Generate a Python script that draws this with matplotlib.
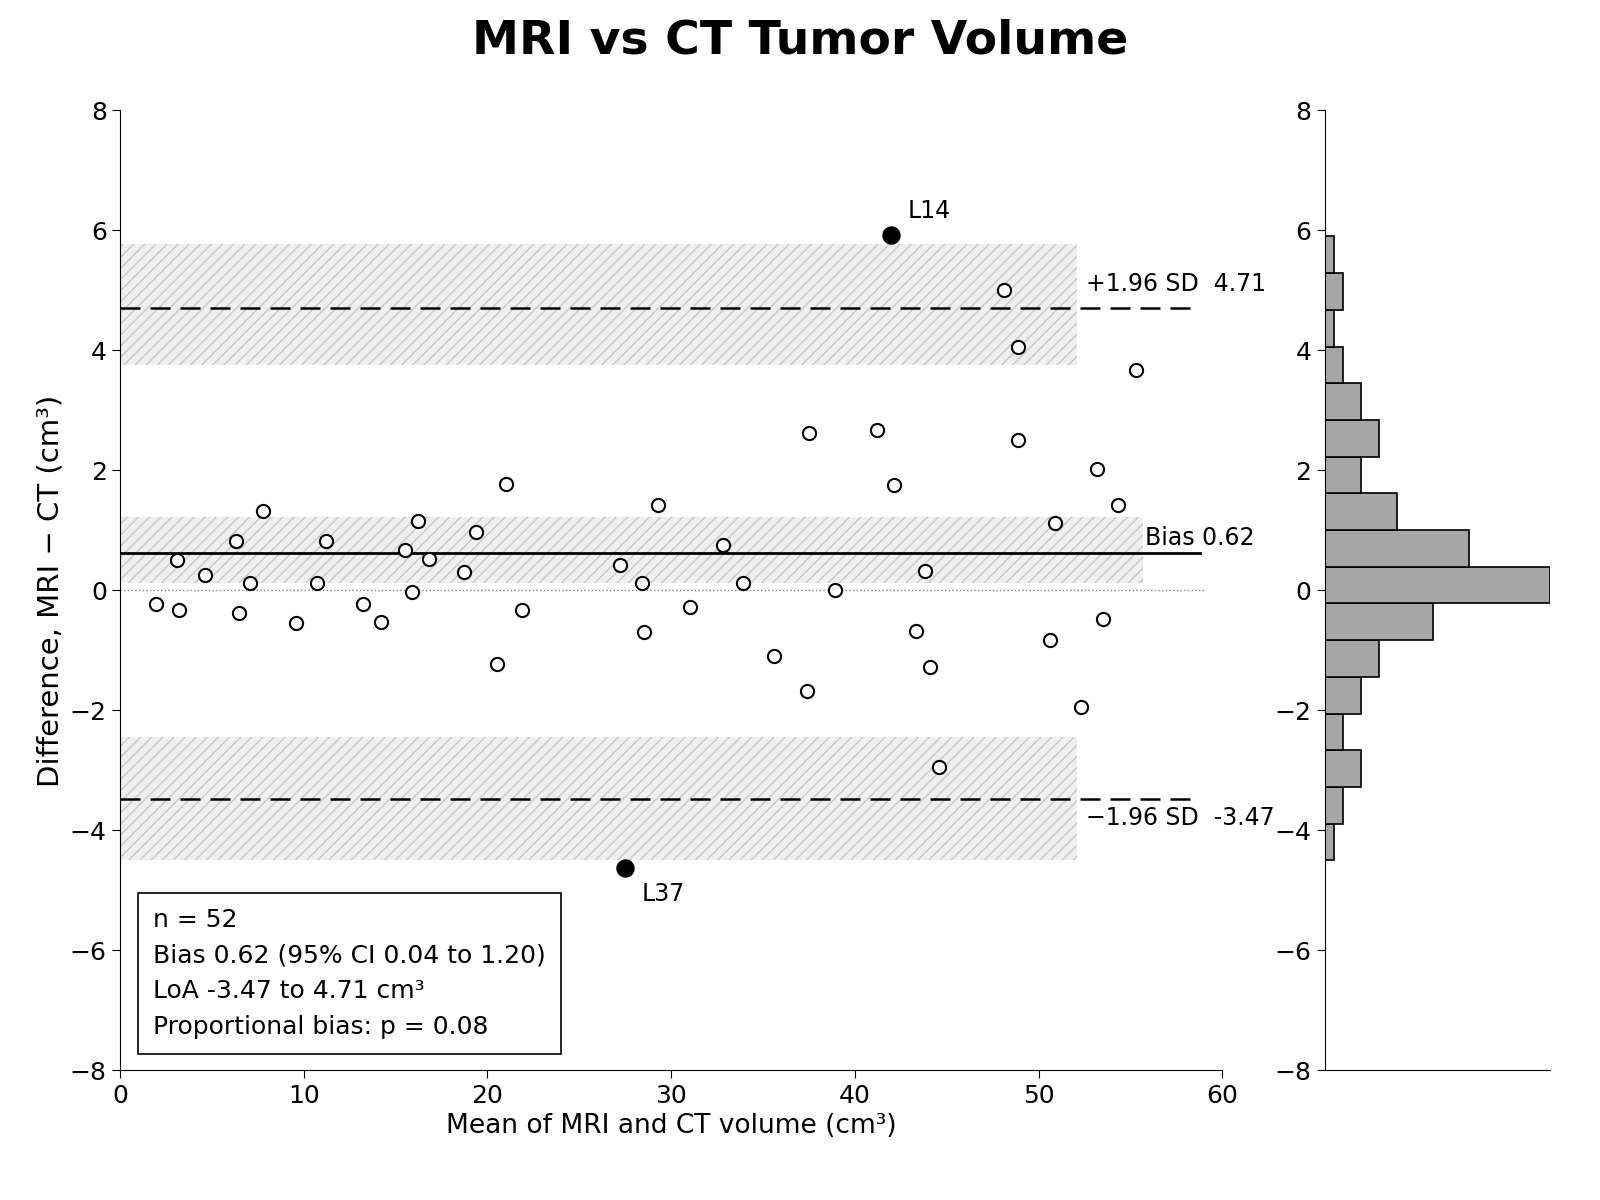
import numpy as np
import matplotlib.pyplot as plt

# Bland-Altman data: mean of the two methods vs their difference
mean_vol = [1.96, 3.1, 3.2, 4.6, 6.3, 6.5, 7.1, 7.8, 9.6, 10.7, 11.2, 13.2, 14.2,
            15.5, 15.9, 16.2, 16.8, 18.7, 19.4, 21.0, 20.5, 21.9, 27.2, 28.4, 28.5,
            29.3, 31.0, 32.8, 33.9, 35.6, 37.5, 37.4, 38.9, 41.2, 42.1, 43.3, 43.8,
            44.1, 44.6, 48.1, 48.9, 48.9, 50.6, 50.9, 52.3, 53.2, 53.5, 54.3, 55.3]
diff_vol = [-0.22, 0.5, -0.32, 0.25, 0.83, -0.38, 0.13, 1.32, -0.55, 0.13, 0.82, -0.22,
            -0.53, 0.67, -0.02, 1.15, 0.52, 0.3, 0.97, 1.78, -1.22, -0.32, 0.43, 0.13,
            -0.7, 1.43, -0.27, 0.75, 0.13, -1.1, 2.62, -1.68, 0.0, 2.68, 1.75, -0.67,
            0.33, -1.28, -2.95, 5.0, 4.05, 2.5, -0.82, 1.13, -1.95, 2.03, -0.47, 1.43, 3.67]
outlier_labels = ["L14", "L37"]
outlier_mean = [41.97, 27.5]
outlier_diff = [5.93, -4.62]

bias = 0.62
loa_upper = 4.71
loa_lower = -3.47
bias_ci = (0.12, 1.23)
upper_ci = (3.75, 5.77)
lower_ci = (-4.5, -2.45)

hist_edges = np.linspace(-4.5, 5.9, 18)
hist_counts = [1, 2, 4, 2, 4, 6, 12, 25, 16, 8, 4, 6, 4, 2, 1, 2, 1]

fig = plt.figure(figsize=(16, 12), dpi=100)
ax = fig.add_axes([0.075, 0.108, 0.689, 0.8])
axh = fig.add_axes([0.828, 0.108, 0.141, 0.8], sharey=ax)

# confidence bands
for (lo, hi), xmax in [(upper_ci, 52.1), (bias_ci, 55.7), (lower_ci, 52.1)]:
    ax.fill_between([0, xmax], lo, hi, facecolor="#efefef", edgecolor="#c8c8c8",
                    hatch="///", linewidth=0, zorder=1)

ax.plot([0, 58.8], [bias, bias], color="black", lw=2, zorder=2)
ax.plot([0, 58.8], [loa_upper, loa_upper], color="black", lw=1.8, ls=(0, (8, 4)), zorder=2)
ax.plot([0, 58.8], [loa_lower, loa_lower], color="black", lw=1.8, ls=(0, (8, 4)), zorder=2)
ax.plot([0, 59], [0, 0], color="gray", lw=1, ls=":", zorder=2)

ax.scatter(mean_vol, diff_vol, s=90, facecolors="white", edgecolors="black",
           linewidths=1.5, zorder=3)
ax.scatter(outlier_mean, outlier_diff, s=150, color="black", zorder=4)
ax.annotate(outlier_labels[0], (outlier_mean[0], outlier_diff[0]), xytext=(12, 12),
            textcoords="offset points", fontsize=17)
ax.annotate(outlier_labels[1], (outlier_mean[1], outlier_diff[1]), xytext=(12, -24),
            textcoords="offset points", fontsize=17)

ax.text(52.6, loa_upper + 0.2, f"+1.96 SD  {loa_upper:.2f}", ha="left", va="bottom",
        fontsize=17, clip_on=False)
ax.text(55.8, bias + 0.05, f"Bias {bias:.2f}", ha="left", va="bottom",
        fontsize=17, clip_on=False)
ax.text(52.6, loa_lower - 0.12, f"\u22121.96 SD  {loa_lower:.2f}", ha="left", va="top",
        fontsize=17, clip_on=False)

stats = ("n = 52\nBias 0.62 (95% CI 0.04 to 1.20)\n"
         "LoA -3.47 to 4.71 cm\u00b3\nProportional bias: p = 0.08")
ax.text(1.8, -5.3, stats, fontsize=18, va="top", linespacing=1.6,
        bbox=dict(boxstyle="square,pad=0.6", facecolor="white", edgecolor="black", lw=1.2))

ax.set_xlim(0, 60)
ax.set_ylim(-8, 8)
ax.set_yticks(range(-8, 9, 2))
ax.set_xlabel("Mean of MRI and CT volume (cm\u00b3)", fontsize=19)
ax.set_ylabel("Difference, MRI \u2212 CT (cm\u00b3)", fontsize=21)
ax.tick_params(labelsize=18, length=6)
for s in ["top", "right"]:
    ax.spines[s].set_visible(False)

axh.barh(hist_edges[:-1], hist_counts, height=np.diff(hist_edges), align="edge",
         color="#a6a6a6", edgecolor="black", lw=1.2)
axh.set_xlim(0, 25)
axh.set_xticks([])
axh.tick_params(labelsize=18, length=6, labelleft=True)
for s in ["top", "right"]:
    axh.spines[s].set_visible(False)

fig.suptitle("MRI vs CT Tumor Volume", fontsize=34, fontweight="bold", y=0.985)
fig.savefig("out.png")
